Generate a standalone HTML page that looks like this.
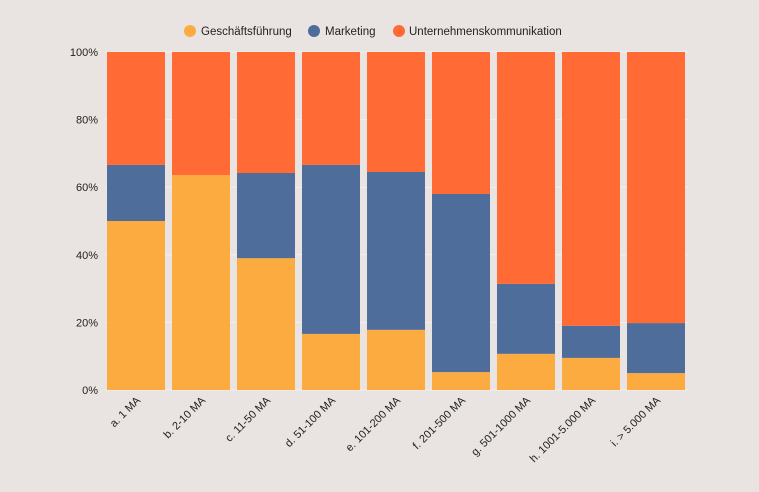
<!DOCTYPE html>
<html><head><meta charset="utf-8"><style>
body{margin:0;background:#e9e4e1;font-family:"Liberation Sans",sans-serif;}
svg{display:block}
</style></head><body>
<svg id="c" width="759" height="492">
<rect width="759" height="492" fill="#e9e4e1"/>
<g>
<g><circle cx="190" cy="31" r="6" fill="#fcab41"/><text x="201" y="35" font-size="11.5" fill="#222">Geschäftsführung</text></g>
<g><circle cx="314" cy="31" r="6" fill="#4f6d9a"/><text x="325" y="35" font-size="11.5" fill="#222">Marketing</text></g>
<g><circle cx="399" cy="31" r="6" fill="#ff6a35"/><text x="409" y="35" font-size="11.5" fill="#222">Unternehmenskommunikation</text></g>
</g>
<g id="grid"></g>
<g id="bars"></g>
<g id="yax"></g>
<g id="xax"></g>
</svg>
<script>
const categories=["a. 1 MA","b. 2-10 MA","c. 11-50 MA","d. 51-100 MA","e. 101-200 MA","f. 201-500 MA","g. 501-1000 MA","h. 1001-5.000 MA","i. > 5.000 MA"];
const geschaeft=[50,63.6,39,16.6,17.8,5.3,10.7,9.5,5];
const marketing=[16.6,0,25.2,50,46.7,52.7,20.7,9.5,14.8];
const kommunikation=[33.4,36.4,35.8,33.4,35.5,42,68.6,81,80.2];
const yTicks=[0,20,40,60,80,100];
const ns="http://www.w3.org/2000/svg";
const X0=105,STEP=65,BW=58,Y0=390,Y1=52;
const y=v=>Y0-(v/100)*(Y0-Y1);
const xb=i=>X0+2+i*STEP;
function mk(t,a,p){const e=document.createElementNS(ns,t);for(const k in a)e.setAttribute(k,a[k]);p.appendChild(e);return e;}
const grid=document.getElementById('grid'),bars=document.getElementById('bars'),yax=document.getElementById('yax'),xax=document.getElementById('xax');
yTicks.forEach(t=>{
  const l=mk('line',{x1:X0,x2:688,y1:y(t),y2:y(t),stroke:'#f3f0ee','stroke-width':1},grid);
  
  
  const tx=mk('text',{x:98,y:y(t)+4,'text-anchor':'end','font-size':11,fill:'#222'},yax);
  tx.textContent=t+'%';
  
  
});
const series=[[geschaeft,'#fcab41','geschaeftsfuehrung'],[marketing,'#4f6d9a','marketing'],[kommunikation,'#ff6a35','kommunikation']];
categories.forEach((c,i)=>{
  let base=0;
  series.forEach(([arr,col,nm])=>{
    const v=arr[i];
    if(v>0){
      const r=mk('rect',{x:xb(i),y:y(base+v),width:BW,height:y(base)-y(base+v),fill:col},bars);
      
      
    }
    base+=v;
  });
  const cx=xb(i)+BW/2+5,cy=401;
  const t=mk('text',{x:cx,y:cy,'text-anchor':'end','font-size':11,fill:'#222',transform:`rotate(-45 ${cx} ${cy})`},xax);
  t.textContent=c;
  
  
});
</script>
</body></html>
